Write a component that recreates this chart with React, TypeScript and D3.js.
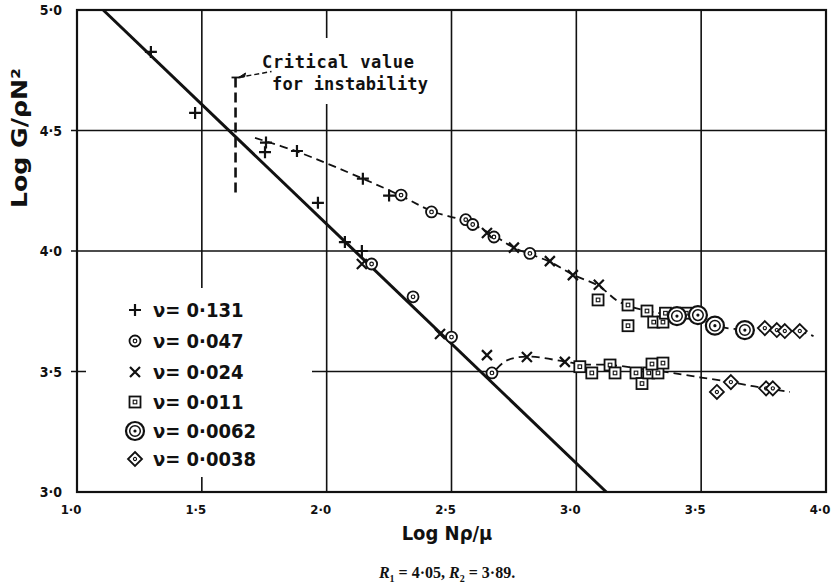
import * as d3 from "d3";

// axis ticks
const xTicks = [1.0, 1.5, 2.0, 2.5, 3.0, 3.5, 4.0];
const yTicks = [3.0, 3.5, 4.0, 4.5, 5.0];
const gridX = [1.5, 2.0, 2.5, 3.0, 3.5];
const gridY = [3.5, 4.0, 4.5];

// measured points, [log Nρ/μ, log G/ρN²]
const nu0131 = [
  [1.296, 4.826], [1.473, 4.573], [1.757, 4.45], [1.753, 4.41], [1.881, 4.415],
  [1.965, 4.2], [2.073, 4.037], [2.141, 4.0], [2.145, 4.3], [2.25, 4.23],
];
const nu0047 = [
  [2.298, 4.232], [2.42, 4.162], [2.557, 4.13], [2.585, 4.11], [2.67, 4.058],
  [2.814, 3.99], [2.18, 3.946], [2.346, 3.81], [2.5, 3.643], [2.662, 3.494],
];
const nu0024 = [
  [2.141, 3.946], [2.454, 3.656], [2.642, 3.568], [2.802, 3.56], [2.954, 3.54],
  [2.642, 4.075], [2.75, 4.014], [2.894, 3.958], [2.986, 3.9], [3.09, 3.86],
];
const nu0011 = [
  [3.087, 3.797], [3.207, 3.776], [3.207, 3.69], [3.283, 3.751], [3.31, 3.705],
  [3.347, 3.705], [3.357, 3.742], [3.44, 3.742],
  [3.014, 3.52], [3.062, 3.494], [3.135, 3.527], [3.155, 3.494], [3.239, 3.494],
  [3.263, 3.45], [3.29, 3.494], [3.327, 3.494], [3.303, 3.531], [3.347, 3.535],
];
const nu00062 = [[3.403, 3.73], [3.487, 3.734], [3.555, 3.69], [3.675, 3.672]];
const nu00038 = [
  [3.755, 3.68], [3.803, 3.672], [3.835, 3.668], [3.895, 3.668],
  [3.563, 3.415], [3.619, 3.456], [3.76, 3.43], [3.787, 3.43],
];

// drawn lines
const theoryLine = [[1.105, 5.0], [3.12, 3.0]];
const upperCurve = [
  [1.713, 4.469], [1.88, 4.413], [2.145, 4.3], [2.3, 4.228], [2.42, 4.166],
  [2.56, 4.122], [2.67, 4.064], [2.75, 4.014], [2.894, 3.955], [2.99, 3.9],
  [3.09, 3.855], [3.17, 3.79], [3.28, 3.752], [3.42, 3.732], [3.49, 3.728],
  [3.56, 3.69], [3.68, 3.672], [3.8, 3.67], [3.9, 3.664], [3.95, 3.647],
];
const lowerCurve = [
  [2.68, 3.51], [2.72, 3.545], [2.8, 3.562], [2.95, 3.542], [3.02, 3.53],
  [3.14, 3.527], [3.3, 3.505], [3.38, 3.495], [3.5, 3.475], [3.62, 3.456],
  [3.7, 3.44], [3.76, 3.43], [3.855, 3.415],
];
const criticalX = 1.635;
const criticalRange = [4.24, 4.72];

const legendLabels = ["ν= 0·131", "ν= 0·047", "ν= 0·024", "ν= 0·011", "ν= 0·0062", "ν= 0·0038"];

const W = 834;
const H = 587;
const x = d3.scaleLinear().domain([1, 4]).range([77, 826]);
const y = d3.scaleLinear().domain([3, 5]).range([492, 10]);
const fmt = (v: number) => v.toFixed(1).replace(".", "·");
const INK = "#111";

function Marker({ kind, cx, cy }: { kind: number; cx: number; cy: number }) {
  const t = `translate(${cx},${cy})`;
  if (kind === 0)
    return <path transform={t} d="M-6,0H6M0,-6V6" stroke={INK} strokeWidth={2.2} />;
  if (kind === 1)
    return (
      <g transform={t}>
        <circle r={5.5} fill="white" stroke={INK} strokeWidth={1.8} />
        <circle r={1.8} fill="none" stroke={INK} strokeWidth={1.2} />
      </g>
    );
  if (kind === 2)
    return <path transform={t} d="M-5,-5L5,5M-5,5L5,-5" stroke={INK} strokeWidth={2.2} />;
  if (kind === 3)
    return (
      <g transform={t}>
        <rect x={-5.5} y={-5.5} width={11} height={11} fill="white" stroke={INK} strokeWidth={1.8} />
        <rect x={-1.8} y={-1.8} width={3.6} height={3.6} fill="none" stroke={INK} strokeWidth={1.1} />
      </g>
    );
  if (kind === 4)
    return (
      <g transform={t}>
        <circle r={9} fill="white" stroke={INK} strokeWidth={2.2} />
        <circle r={5.3} fill="none" stroke={INK} strokeWidth={1.5} />
        <circle r={1.6} fill={INK} />
      </g>
    );
  return (
    <g transform={t}>
      <path d="M0,-7L7,0L0,7L-7,0Z" fill="white" stroke={INK} strokeWidth={1.8} />
      <circle r={1.6} fill="none" stroke={INK} strokeWidth={1.1} />
    </g>
  );
}

export default function App() {
  const line = d3.line<number[]>().x((d) => x(d[0])).y((d) => y(d[1]));
  const curve = d3
    .line<number[]>()
    .x((d) => x(d[0]))
    .y((d) => y(d[1]))
    .curve(d3.curveCatmullRom);
  const series = [nu0131, nu0047, nu0024, nu0011, nu00062, nu00038];
  const legendY = [310, 341, 372, 402, 431, 459];

  return (
    <svg
      width={W}
      height={H}
      style={{ position: "absolute", left: 0, top: 0, background: "white" }}
      fontFamily="'DejaVu Sans Condensed', 'DejaVu Sans', sans-serif"
    >
      <rect width={W} height={H} fill="white" />
      {/* grid */}
      {gridX.map((v) => (
        <line key={"gx" + v} x1={x(v)} x2={x(v)} y1={y(5)} y2={y(3)} stroke={INK} strokeWidth={1.6} />
      ))}
      {gridY.map((v) => (
        <line key={"gy" + v} x1={x(1) - 6} x2={x(4)} y1={y(v)} y2={y(v)} stroke={INK} strokeWidth={1.6} />
      ))}
      <rect x={x(1)} y={y(5)} width={x(4) - x(1)} height={y(3) - y(5)} fill="none" stroke={INK} strokeWidth={2.2} />

      {/* legend box hides the grid behind it */}
      <rect x={86} y={288} width={226} height={189} fill="white" />
      {/* annotation background */}
      <rect x={258} y={38} width={176} height={66} fill="white" />

      {/* tick labels */}
      {xTicks.map((v) => (
        <text key={"xt" + v} x={x(v) - 6} y={514} textAnchor="middle" fontSize={13} fontWeight="bold" fill={INK}>
          {fmt(v)}
        </text>
      ))}
      {yTicks.map((v) => (
        <text key={"yt" + v} x={62} y={y(v) + 5} textAnchor="end" fontSize={14} fontWeight="bold" fill={INK}>
          {fmt(v)}
        </text>
      ))}

      {/* lines */}
      <path d={line(theoryLine as any) ?? ""} fill="none" stroke={INK} strokeWidth={3} />
      <path d={curve(upperCurve as any) ?? ""} fill="none" stroke={INK} strokeWidth={1.8} strokeDasharray="8 5" />
      <path d={curve(lowerCurve as any) ?? ""} fill="none" stroke={INK} strokeWidth={1.8} strokeDasharray="8 5" />
      <line
        x1={x(criticalX)}
        x2={x(criticalX)}
        y1={y(criticalRange[1])}
        y2={y(criticalRange[0])}
        stroke={INK}
        strokeWidth={2.6}
        strokeDasharray="10 5"
      />
      <line x1={x(criticalX) - 4} x2={x(criticalX) + 5} y1={y(criticalRange[1])} y2={y(criticalRange[1])} stroke={INK} strokeWidth={1.8} />
      <path
        d={`M${x(criticalX) + 3},${y(criticalRange[1])}L${x(criticalX) + 36},${y(criticalRange[1]) - 6}`}
        stroke={INK}
        strokeWidth={1.4}
        strokeDasharray="5 3"
      />
      <path
        d={`M${x(criticalX) + 3},${y(criticalRange[1])}l7,-4.5l-1,4z`}
        fill={INK}
        stroke={INK}
        strokeWidth={1}
      />

      {/* points */}
      {series.map((pts, k) =>
        pts.map((p, i) => <Marker key={k + "-" + i} kind={k} cx={x(p[0])} cy={y(p[1])} />),
      )}

      {/* legend */}
      {legendLabels.map((lab, k) => (
        <g key={"lg" + k}>
          <Marker kind={k} cx={135} cy={legendY[k]} />
          <text x={153} y={legendY[k] + 7} fontSize={20} fontWeight="bold" fill={INK}>
            {lab}
          </text>
        </g>
      ))}

      {/* annotation */}
      <text x={262} y={68} fontFamily="'DejaVu Sans Mono', monospace" fontWeight="bold" fontSize={17} textLength={152} fill={INK}>
        Critical value
      </text>
      <text x={272} y={90} fontFamily="'DejaVu Sans Mono', monospace" fontWeight="bold" fontSize={17} textLength={156} fill={INK}>
        for instability
      </text>

      {/* axis titles */}
      <text x={447} y={540} textAnchor="middle" fontSize={20} fontWeight="bold" fill={INK}>
        Log Nρ/μ
      </text>
      <text
        transform="translate(27,138) rotate(-90)"
        textAnchor="middle"
        fontSize={21}
        fontWeight="bold"
        textLength={140}
        lengthAdjust="spacingAndGlyphs"
        fill={INK}
      >
        Log G/ρN²
      </text>

      {/* caption */}
      <text x={447} y={578} textAnchor="middle" fontSize={16} fontWeight="bold" fontFamily="'Liberation Serif', serif" fill={INK}>
        <tspan fontStyle="italic">R</tspan>
        <tspan fontSize={10} dy={4}>1</tspan>
        <tspan dy={-4}> = 4·05, </tspan>
        <tspan fontStyle="italic">R</tspan>
        <tspan fontSize={10} dy={4}>2</tspan>
        <tspan dy={-4}> = 3·89.</tspan>
      </text>
    </svg>
  );
}
